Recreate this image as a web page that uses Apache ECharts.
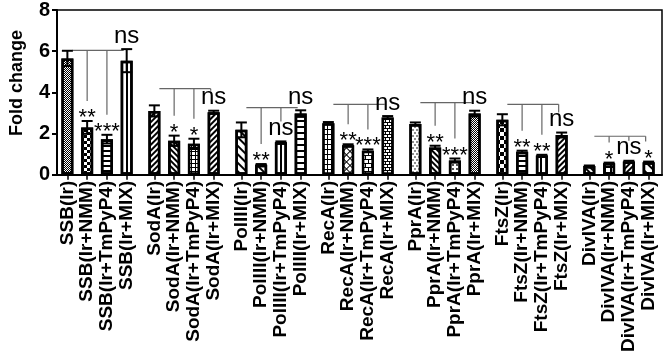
<!DOCTYPE html>
<html>
<head>
<meta charset="utf-8">
<script src="https://cdn.jsdelivr.net/npm/echarts@6/dist/echarts.min.js"></script>
<style>
html, body { margin: 0; padding: 0; background: #fff; }
#chart { width: 666px; height: 355px; }
</style>
</head>
<body>
<div id="chart"></div>
<script>
// data
const genes = ['SSB', 'SodA', 'PolIII', 'RecA', 'PprA', 'FtsZ', 'DivIVA'];
const treatments = ['Ir', 'Ir+NMM', 'Ir+TmPyP4', 'Ir+MIX'];
const foldChange = [
    [5.65, 2.30, 1.73, 5.54],
    [3.10, 1.65, 1.50, 3.04],
    [2.18, 0.49, 1.58, 2.97],
    [2.50, 1.43, 1.17, 2.78],
    [2.47, 1.33, 0.69, 2.97],
    [2.67, 1.12, 0.93, 1.93],
    [0.43, 0.56, 0.64, 0.61]
];
const errors = [
    [0.37, 0.31, 0.21, 0.56],
    [0.27, 0.25, 0.25, 0.07],
    [0.36, 0.03, 0.04, 0.16],
    [0.06, 0.05, 0.06, 0.07],
    [0.07, 0.08, 0.10, 0.14],
    [0.27, 0.05, 0.04, 0.12],
    [0.02, 0.03, 0.04, 0.03]
];
const signif = [
    ['', '**', '***', 'ns'],
    ['', '*', '*', 'ns'],
    ['', '**', 'ns', 'ns'],
    ['', '**', '***', 'ns'],
    ['', '**', '***', 'ns'],
    ['', '**', '**', 'ns'],
    ['', '*', 'ns', '*']
];
const bracketLevel = [6.04, 4.18, 3.26, 3.42, 3.50, 3.42, 1.87];
const yMin = 0, yMax = 8, yStep = 2;

// bar fill patterns (which pattern goes on which bar)
const barPatterns = [
    ['checkFine', 'checkMid', 'hLines', 'vLinesWide'],
    ['diagUp', 'diagDown', 'grid', 'diagUpDense'],
    ['diagDownWide', 'diagDownWide', 'vLines', 'hLinesThick'],
    ['rectGrid', 'diamond', 'brick', 'brickSmall'],
    ['dotsFine', 'diagDownDark', 'dots', 'checkFine'],
    ['checkBig', 'hLines', 'vLinesWide', 'diagUp'],
    ['diagDown', 'gridBig', 'diagUp', 'diagDownWider']
];

const lines = (w, gap, rot) => ({ symbol: 'rect', symbolSize: 1, symbolKeepAspect: false, color: '#000',
    dashArrayX: [1, 0], dashArrayY: [w, gap], rotation: rot || 0 });
const vlines = (w, gap) => ({ symbol: 'rect', symbolSize: 1, symbolKeepAspect: false, color: '#000',
    dashArrayX: [w, gap], dashArrayY: [1, 0] });
const checker = c => ({ symbol: 'rect', symbolSize: 1, symbolKeepAspect: false, color: '#000',
    dashArrayX: [[c, c], [0, c, c, 0]], dashArrayY: [c, 0] });
const cells = (w, h, gx, gy, rot) => ({ symbol: 'rect', symbolSize: 1, symbolKeepAspect: false,
    color: '#fff', backgroundColor: '#000', dashArrayX: [w, gx], dashArrayY: [h, gy], rotation: rot || 0 });
const D = Math.PI / 4;
const patterns = {
    checkFine: checker(1),
    checkMid: checker(3),
    checkBig: checker(4),
    hLines: lines(1.5, 2.5),
    hLinesThick: lines(2, 3.5),
    vLines: vlines(1.5, 3),
    vLinesWide: vlines(1.5, 3.5),
    diagUp: lines(1.2, 1.8, -D),
    diagUpDense: lines(1.3, 1.5, -D),
    diagDown: lines(1.2, 1.8, D),
    diagDownDark: lines(1.8, 1.2, D),
    diagDownWide: lines(1.6, 4, D),
    diagDownWider: lines(1.8, 5, D),
    grid: cells(3, 3, 1, 1),
    gridBig: cells(4, 4, 1.2, 1.2),
    rectGrid: cells(2.5, 4, 1, 1),
    diamond: cells(3.5, 3.5, 1, 1, D),
    brick: { symbol: 'rect', symbolSize: 1, symbolKeepAspect: false, color: '#fff', backgroundColor: '#000',
        dashArrayX: [[5, 1], [2, 1, 3, 0]], dashArrayY: [2.5, 1] },
    brickSmall: { symbol: 'rect', symbolSize: 1, symbolKeepAspect: false, color: '#fff', backgroundColor: '#000',
        dashArrayX: [[3, 1], [1, 1, 2, 0]], dashArrayY: [2, 1] },
    dotsFine: { symbol: 'circle', symbolSize: 0.8, color: '#000', dashArrayX: [[1.5, 1.5], [0, 1.5, 1.5, 0]], dashArrayY: [1.5, 0.5] },
    dots: { symbol: 'circle', symbolSize: 0.9, color: '#000', dashArrayX: [1.5, 2], dashArrayY: [1.5, 2] }
};

// x layout: one unit per bar, groups spaced a bit wider
const firstOffset = 0.525, groupPitch = 4.4, xMax = 30.6;
const barPos = (g, i) => firstOffset + g * groupPitch + i;

const positions = [], labelByPos = {};
const barData = [], errData = [], sigData = [];
genes.forEach((gene, g) => {
    treatments.forEach((t, i) => {
        const x = barPos(g, i);
        positions.push(x);
        labelByPos[x.toFixed(3)] = gene + '(' + t + ')';
        barData.push({ value: [x, foldChange[g][i]], itemStyle: { decal: patterns[barPatterns[g][i]] } });
        errData.push([x, foldChange[g][i], errors[g][i]]);
        if (signif[g][i]) sigData.push([x, foldChange[g][i] + errors[g][i], g, i]);
    });
});

const font = '"Liberation Sans", Arial, sans-serif';

function renderErrorBar(params, api) {
    const x = api.value(0), m = api.value(1), e = api.value(2);
    const hi = api.coord([x, m + e]), lo = api.coord([x, m - e]);
    const cap = 5.5;
    const st = { stroke: '#000', lineWidth: 2 };
    return {
        type: 'group', children: [
            { type: 'line', shape: { x1: hi[0], y1: hi[1], x2: lo[0], y2: lo[1] }, style: st },
            { type: 'line', shape: { x1: hi[0] - cap, y1: hi[1], x2: hi[0] + cap, y2: hi[1] }, style: st },
            { type: 'line', shape: { x1: lo[0] - cap, y1: lo[1], x2: lo[0] + cap, y2: lo[1] }, style: st }
        ]
    };
}

function renderBracket(params, api) {
    const g = api.value(2);
    const yB = api.coord([0, bracketLevel[g]])[1];
    const px = i => api.coord([barPos(g, i), 0])[0];
    const x0 = px(0) + 5, x1 = px(3) - 3;
    const st = { stroke: '#666', lineWidth: 1.2 };
    const children = [{ type: 'line', shape: { x1: x0, y1: yB, x2: x1, y2: yB }, style: st }];
    for (let i = 1; i < 4; i++) {
        const tip = api.coord([0, foldChange[g][i] + errors[g][i]])[1] - 20;
        if (tip > yB + 1) {
            const x = i < 3 ? px(i) : x1;
            children.push({ type: 'line', shape: { x1: x, y1: yB, x2: x, y2: tip }, style: st });
        }
    }
    return { type: 'group', children: children };
}

function renderSig(params, api) {
    const x = api.value(0), top = api.value(1);
    const txt = signif[api.value(2)][api.value(3)];
    const p = api.coord([x, top]);
    const isNs = txt === 'ns';
    return {
        type: 'text',
        style: {
            text: txt, x: p[0], y: p[1] - (isNs ? 13 : 3),
            align: 'center', verticalAlign: 'middle',
            font: (isNs ? '24px ' : '22px ') + font, fill: '#000'
        }
    };
}

const chart = echarts.init(document.getElementById('chart'));
chart.setOption({
    animation: false,
    grid: { left: 50, right: 4, top: 10, bottom: 179, show: true, borderColor: '#000', borderWidth: 1.5 },
    xAxis: {
        type: 'value', min: 0, max: xMax,
        splitLine: { show: false },
        axisLine: { show: true, onZero: true, lineStyle: { color: '#000', width: 2 } },
        axisTick: { show: true, customValues: positions, length: 5, lineStyle: { color: '#000', width: 1.5 } },
        axisLabel: {
            customValues: positions, rotate: 90, margin: 6,
            formatter: v => labelByPos[Number(v).toFixed(3)] || '',
            fontSize: 19, fontWeight: 'bold', color: '#000', fontFamily: font
        }
    },
    yAxis: {
        type: 'value', min: yMin, max: yMax, interval: yStep,
        name: 'Fold change', nameLocation: 'middle', nameGap: 31,
        nameTextStyle: { fontSize: 18, fontWeight: 'bold', color: '#000', fontFamily: font, padding: [0, 0, 0, 19] },
        splitLine: { show: false },
        axisLine: { show: true, lineStyle: { color: '#000', width: 2 } },
        axisTick: { show: true, length: 5, lineStyle: { color: '#000', width: 2 } },
        axisLabel: { fontSize: 20, fontWeight: 'bold', color: '#000', margin: 7, fontFamily: font }
    },
    series: [
        {
            type: 'bar', data: barData, barWidth: 12,
            itemStyle: { color: '#fff', borderColor: '#000', borderWidth: 2.5 }
        },
        { type: 'custom', data: errData, renderItem: renderErrorBar, z: 5 },
        { type: 'custom', data: genes.map((gn, g) => [barPos(g, 0), bracketLevel[g], g]), renderItem: renderBracket, z: 4 },
        { type: 'custom', data: sigData, renderItem: renderSig, z: 6 }
    ]
});
</script>
</body>
</html>
